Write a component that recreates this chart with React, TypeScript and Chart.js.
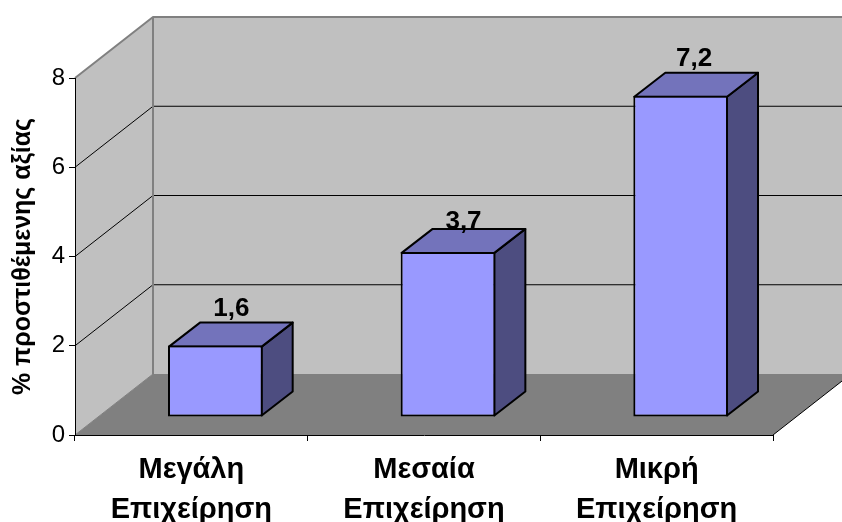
import React, { useEffect, useRef } from "react";
import { Chart, registerables } from "chart.js";

Chart.register(...registerables);

const categories: string[][] = [
  ["Μεγάλη", "Επιχείρηση"],
  ["Μεσαία", "Επιχείρηση"],
  ["Μικρή", "Επιχείρηση"],
];
const values = [1.6, 3.7, 7.2];
const valueLabels = ["1,6", "3,7", "7,2"];
const yTicks = [0, 2, 4, 6, 8];
const yTitle = "% προστιθέμενης αξίας";

const FONT = "'Liberation Sans', Arial, sans-serif";
const WALL = "#C0C0C0";
const EDGE = "#808080";
const FLOOR = "#808080";
const BAR_FRONT = "#9999FF";
const BAR_TOP = "#7373BB";
const BAR_SIDE = "#4D4D80";

// projection of the box
const DEPTH = { x: 78, y: -61 };
const BAR_SHIFT = { x: 24, y: -18 };
const BAR_DEPTH = { x: 31, y: -24 };
const LABEL_NUDGE = [
  { x: 16, y: -30 },
  { x: 15.5, y: -23 },
  { x: 13.5, y: -30 },
];

const poly = (ctx: CanvasRenderingContext2D, pts: number[][], fill?: string, stroke?: string, lw = 1) => {
  ctx.beginPath();
  pts.forEach(([x, y], i) => (i ? ctx.lineTo(x, y) : ctx.moveTo(x, y)));
  if (fill) {
    ctx.closePath();
    ctx.fillStyle = fill;
    ctx.fill();
  }
  if (stroke) {
    ctx.strokeStyle = stroke;
    ctx.lineWidth = lw;
    ctx.lineJoin = "round";
    ctx.stroke();
  }
};

const box3d = {
  id: "box3d",
  beforeDraw(chart: any) {
    const { ctx, chartArea: a, scales } = chart;
    const y = scales.y;
    const y0 = y.getPixelForValue(0);
    const yMax = y.getPixelForValue(8);
    const bx = a.left + DEPTH.x;
    const ex = a.right + DEPTH.x;
    ctx.save();
    poly(ctx, [[a.left, yMax], [bx, yMax + DEPTH.y], [ex, yMax + DEPTH.y], [ex, y0 + DEPTH.y], [bx, y0 + DEPTH.y], [a.left, y0]], WALL);
    poly(ctx, [[a.left, y0], [bx, y0 + DEPTH.y], [ex, y0 + DEPTH.y], [a.right, y0]], FLOOR);
    yTicks.forEach((t) => {
      if (t === 0 || t === 8) return;
      const py = y.getPixelForValue(t);
      poly(ctx, [[a.left, py], [bx, py + DEPTH.y], [ex, py + DEPTH.y]], undefined, "#000000", 1);
    });
    poly(ctx, [[a.left, yMax], [bx, yMax + DEPTH.y], [ex, yMax + DEPTH.y]], undefined, EDGE, 2);
    poly(ctx, [[bx, yMax + DEPTH.y], [bx, y0 + DEPTH.y]], undefined, EDGE, 2);
    poly(ctx, [[a.left, y0], [bx, y0 + DEPTH.y]], undefined, EDGE, 1);
    poly(ctx, [[a.right, y0], [ex, y0 + DEPTH.y]], undefined, "#000000", 1);
    ctx.restore();
  },
  beforeDatasetDraw(chart: any, args: any) {
    const { ctx } = chart;
    ctx.save();
    ctx.translate(BAR_SHIFT.x, BAR_SHIFT.y);
    args.meta.data.forEach((el: any) => {
      const l = el.x - el.width / 2 + 1;
      const r = el.x + el.width / 2 - 1;
      const t = el.y + 1;
      const b = el.base - 1;
      const d = BAR_DEPTH;
      poly(ctx, [[r, b], [r + d.x, b + d.y], [r + d.x, t + d.y], [r, t]], BAR_SIDE, "#000000", 2);
      poly(ctx, [[l, t], [l + d.x, t + d.y], [r + d.x, t + d.y], [r, t]], BAR_TOP, "#000000", 2);
    });
  },
  afterDatasetDraw(chart: any) {
    chart.ctx.restore();
  },
  afterDatasetsDraw(chart: any) {
    const { ctx } = chart;
    const meta = chart.getDatasetMeta(0);
    ctx.save();
    ctx.font = `bold 26px ${FONT}`;
    ctx.fillStyle = "#000000";
    ctx.textAlign = "center";
    ctx.textBaseline = "alphabetic";
    meta.data.forEach((el: any, i: number) => {
      ctx.fillText(valueLabels[i], el.x + BAR_SHIFT.x + LABEL_NUDGE[i].x, el.y + BAR_SHIFT.y + LABEL_NUDGE[i].y);
    });
    ctx.restore();
  },
};

export default function App() {
  const ref = useRef<HTMLCanvasElement>(null);
  useEffect(() => {
    const chart = new Chart(ref.current!, {
      type: "bar",
      data: {
        labels: categories as any,
        datasets: [
          {
            data: values,
            backgroundColor: BAR_FRONT,
            borderColor: "#000000",
            borderWidth: 2,
            borderSkipped: false,
            barPercentage: 0.407,
            categoryPercentage: 1,
            clip: false as any,
          },
        ],
      },
      options: {
        responsive: false,
        animation: false,
        devicePixelRatio: 1,
        layout: { padding: { left: 0, right: 69, top: 78, bottom: 0 } },
        plugins: { legend: { display: false }, tooltip: { enabled: false } },
        scales: {
          x: {
            afterFit(s: any) {
              s.height = 87;
            },
            grid: { drawOnChartArea: false, drawTicks: true, tickLength: 6, color: "#000000" },
            border: { color: "#000000", width: 1 },
            ticks: {
              color: "#000000",
              padding: 9,
              maxRotation: 0,
              autoSkip: false,
              font: { family: FONT, size: 29, weight: "bold", lineHeight: 1.37 },
            },
          },
          y: {
            min: 0,
            max: 8,
            afterFit(s: any) {
              s.width = 75;
            },
            grid: { drawOnChartArea: false, drawTicks: true, tickLength: 6, color: "#000000" },
            border: { color: "#000000", width: 1 },
            afterBuildTicks(s: any) {
              s.ticks = yTicks.map((value) => ({ value }));
            },
            ticks: {
              color: "#000000",
              padding: 4,
              font: { family: FONT, size: 24 },
            },
            title: {
              display: true,
              text: yTitle,
              color: "#000000",
              padding: { top: 8, bottom: 0 },
              font: { family: FONT, size: 25, weight: "bold" },
            },
          },
        },
      },
      plugins: [box3d],
    } as any);
    return () => chart.destroy();
  }, []);
  return (
    <canvas
      ref={ref}
      width={842}
      height={522}
      style={{ position: "absolute", left: 0, top: 0, display: "block", width: 842, height: 522 }}
    />
  );
}
